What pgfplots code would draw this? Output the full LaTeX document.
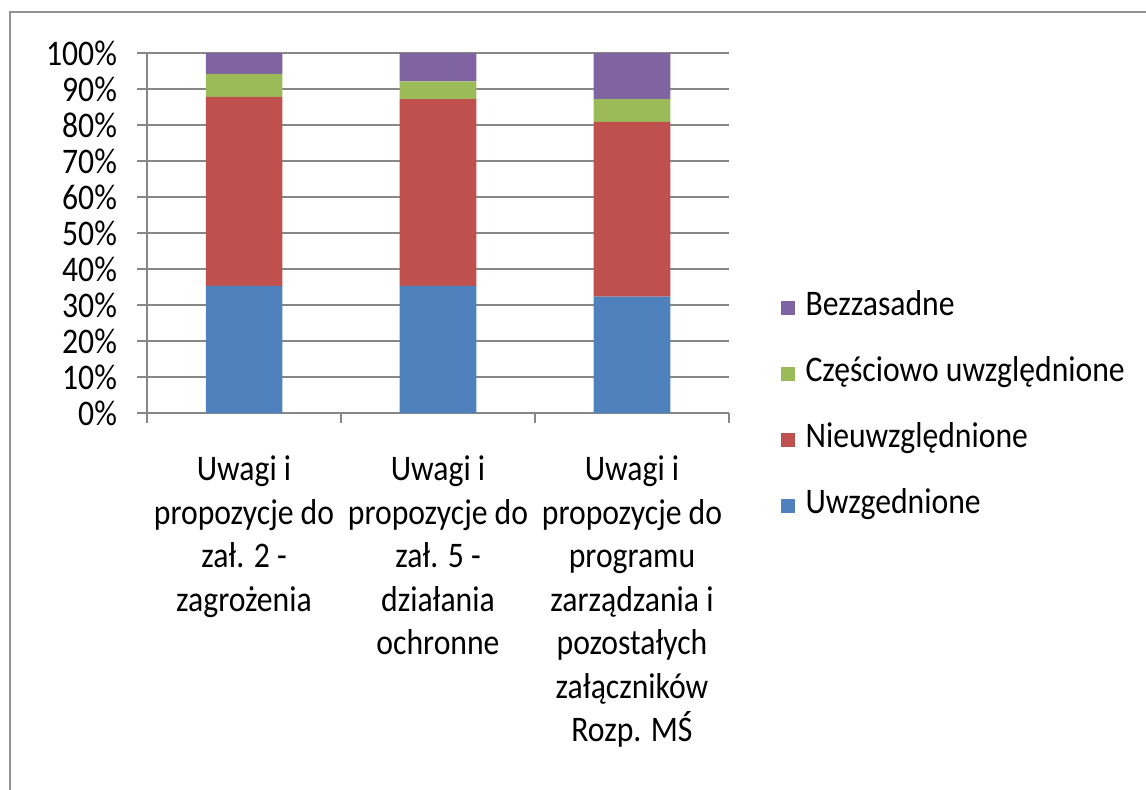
\documentclass[border=0pt]{standalone}
\usepackage{fontspec}
\setmainfont{Carlito}[FakeStretch=0.88]
\usepackage{pgfplots}
\pgfplotsset{compat=1.18}
\definecolor{cBlue}{HTML}{4F81BD}
\definecolor{cRed}{HTML}{C0504D}
\definecolor{cGreen}{HTML}{9BBB59}
\definecolor{cPurple}{HTML}{8064A2}
\definecolor{cGrid}{HTML}{878787}
\begin{document}
\begin{tikzpicture}
\useasboundingbox (0,0) rectangle (573pt,-394.5pt);
\draw[line width=1.3pt, color=cGrid!90] (5pt,-400pt) -- (5pt,-6pt) -- (580pt,-6pt);
\begin{axis}[
  at={(73.5pt,-206.5pt)}, anchor=south west,
  scale only axis, width=291pt, height=180pt,
  ybar stacked, bar width=38.25pt,
  xmin=-0.5, xmax=2.5, ymin=0, ymax=100,
  axis x line*=bottom, axis y line*=left,
  axis line style={cGrid, line width=0.8pt, -},
  xtick={0,1,2},
  xticklabels={{Uwagi i\\propozycje do\\zał. 2 -\\zagrożenia},
               {Uwagi i\\propozycje do\\zał. 5 -\\działania\\ochronne},
               {Uwagi i\\propozycje do\\programu\\zarządzania i\\pozostałych\\załączników\\Rozp. MŚ}},
  major x tick style={draw=none},
  minor xtick={-0.5,0.5,1.5,2.5},
  minor x tick style={cGrid, line width=0.8pt},
  minor tick length=5pt,
  xticklabel style={align=center, anchor=north, font=\fontsize{18}{21.75}\selectfont, yshift=-13pt},
  ytick={0,10,...,100},
  yticklabels={0\%,10\%,20\%,30\%,40\%,50\%,60\%,70\%,80\%,90\%,100\%},
  yticklabel style={font=\fontsize{18}{20}\selectfont, xshift=-6.5pt},
  y tick style={cGrid, line width=0.8pt},
  major tick length=5pt,
  tick align=outside,
  ymajorgrids, grid style={cGrid, line width=0.8pt},
  reverse legend,
  legend cell align=left,
  legend image code/.code={\fill[#1] (0pt,-3.5pt) rectangle (7pt,3.5pt);},
  legend style={draw=none, at={(1.088,0.018)}, anchor=west, inner sep=0pt,
    font=\fontsize{18}{20}\selectfont, row sep=17pt,
    nodes={inner sep=0pt, text height=12pt, text depth=4pt},
    /tikz/every odd column/.style={column sep=5.5pt}},
]
\addplot[fill=cBlue, draw=none] coordinates {(0,35.3) (1,35.3) (2,32.3)};
\addplot[fill=cRed, draw=none] coordinates {(0,52.5) (1,51.9) (2,48.6)};
\addplot[fill=cGreen, draw=none] coordinates {(0,6.4) (1,4.9) (2,6.3)};
\addplot[fill=cPurple, draw=none] coordinates {(0,5.8) (1,7.9) (2,12.8)};
\legend{Uwzgednione, Nieuwzględnione, Częściowo uwzględnione, Bezzasadne}
\end{axis}
\end{tikzpicture}
\end{document}
